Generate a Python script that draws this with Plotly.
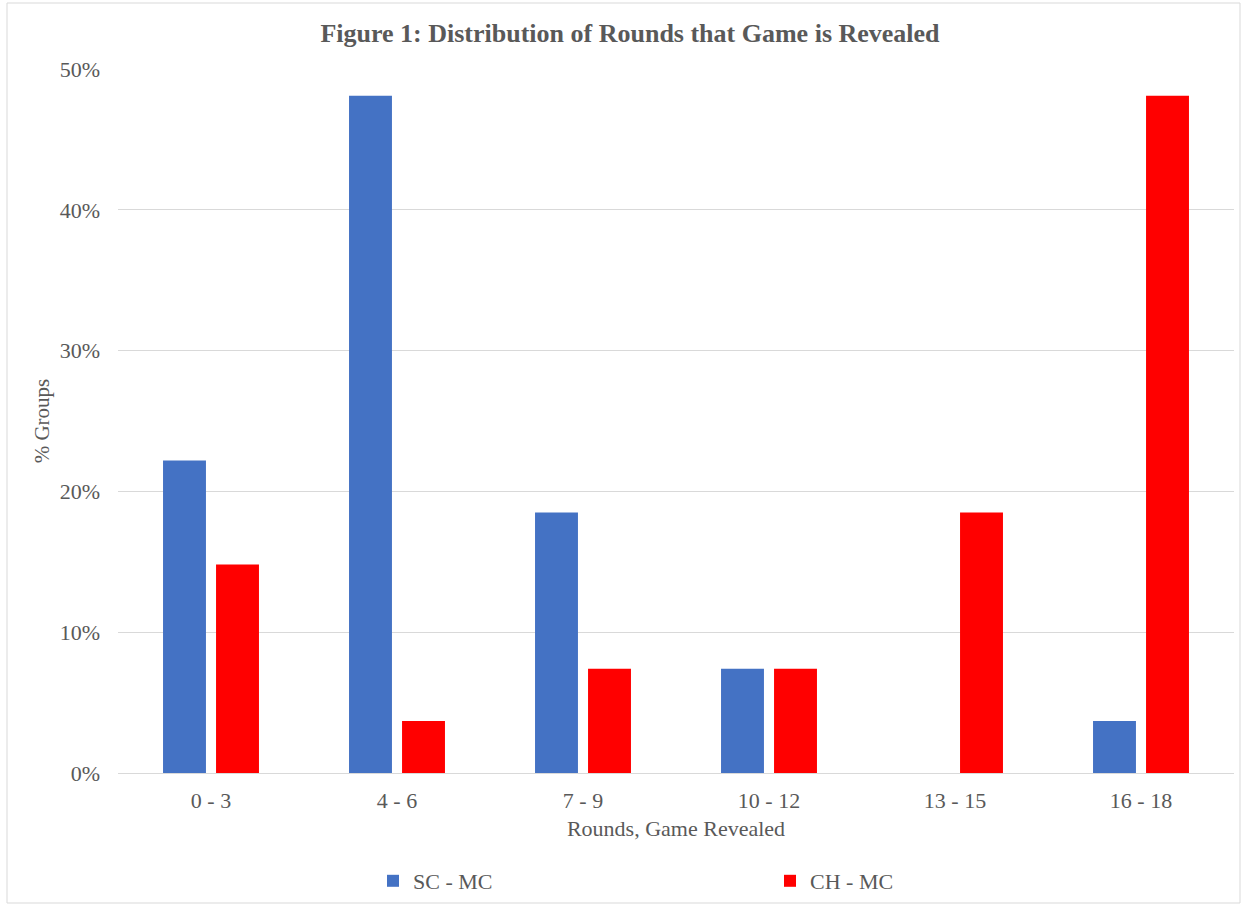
import plotly.graph_objects as go

categories = ["0 - 3", "4 - 6", "7 - 9", "10 - 12", "13 - 15", "16 - 18"]
sc_mc = [0.222, 0.481, 0.185, 0.074, 0.0, 0.037]
ch_mc = [0.148, 0.037, 0.074, 0.074, 0.185, 0.481]
y_ticks = [0, 0.1, 0.2, 0.3, 0.4, 0.5]
y_tick_labels = ["0%", "10%", "20%", "30%", "40%", "50%"]

FONT = "Liberation Serif, Times New Roman, serif"
TXT = "#595959"

fig = go.Figure()
fig.add_trace(go.Bar(name="SC - MC", x=categories, y=sc_mc,
                     marker=dict(color="#4472C4", line=dict(width=0))))
fig.add_trace(go.Bar(name="CH - MC", x=categories, y=ch_mc,
                     marker=dict(color="#FF0000", line=dict(width=0))))

W, H = 1243, 905
ml, mr, mt, mb = 118, 9, 69, 132
PW, PH = W - ml - mr, H - mt - mb
fig.update_layout(
    width=W, height=H,
    margin=dict(l=ml, r=mr, t=mt, b=mb, autoexpand=False),
    paper_bgcolor="white", plot_bgcolor="white",
    font=dict(family=FONT, color=TXT, size=22),
    barmode="group", bargap=0.43, bargroupgap=0.19,
    title=dict(text="<b>Figure 1: Distribution of Rounds that Game is Revealed</b>",
               x=(630 - ml) / PW, xref="paper", xanchor="center",
               y=1 - 33 / H, yanchor="middle",
               font=dict(family=FONT, size=26, color=TXT)),
    showlegend=True,
    legend=dict(orientation="h", xref="container", yref="container",
                x=373 / W, xanchor="left",
                y=1 - 881 / H, yanchor="middle",
                entrywidth=352, itemwidth=30,
                font=dict(family=FONT, size=22, color=TXT)),
    xaxis=dict(showgrid=False, showline=False, zeroline=False,
               tickfont=dict(family=FONT, size=22, color=TXT),
               ticks="", ticklabelstandoff=12,
               title=dict(text="Rounds, Game Revealed", standoff=8,
                          font=dict(family=FONT, size=22, color=TXT))),
    yaxis=dict(range=[0, 0.5], tickvals=y_ticks, ticktext=y_tick_labels,
               showgrid=True, gridcolor="#D9D9D9", gridwidth=1,
               zeroline=True, zerolinecolor="#D9D9D9", zerolinewidth=1,
               showline=False, ticks="", ticklabelstandoff=17,
               tickfont=dict(family=FONT, size=22, color=TXT),
               title=dict(text="% Groups", standoff=4,
                          font=dict(family=FONT, size=21, color=TXT))),
)

# light outer border of the chart area
fig.add_shape(type="rect", xref="paper", yref="paper",
              x0=(7 - ml) / PW, x1=(1240 - ml) / PW,
              y0=-(903 - (H - mb)) / PH, y1=1 + (mt - 3) / PH,
              line=dict(color="#D9D9D9", width=1), fillcolor="rgba(0,0,0,0)",
              layer="below")

fig.write_html("out.html", config={"displayModeBar": False},
               post_script="document.body.style.margin='0';document.body.style.padding='0';")
